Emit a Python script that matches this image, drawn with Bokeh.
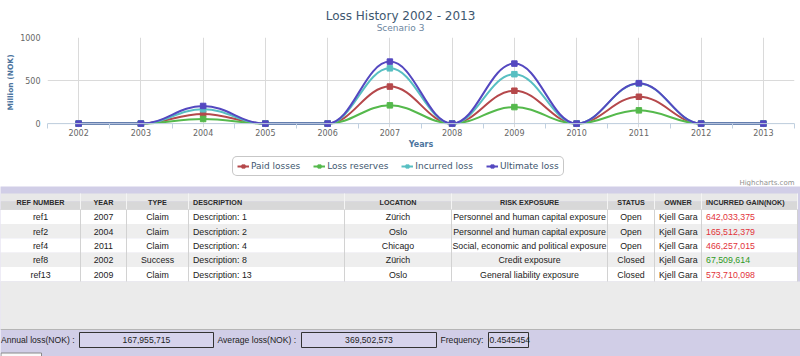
import numpy as np
from bokeh.plotting import figure
from bokeh.models import (Range1d, FixedTicker, Span, Legend, LegendItem, ColumnDataSource)
from bokeh.core.properties import value
from bokeh.embed import file_html
from bokeh.resources import INLINE

# ---------------- chart data ----------------
years = [2002, 2003, 2004, 2005, 2006, 2007, 2008, 2009, 2010, 2011, 2012, 2013]
year_tick_labels = ["2002", "2003", "2004", "2005", "2006", "2007",
                    "2008", "2009", "2010", "2011", "2012", "2013"]
y_tick_values = [0, 500, 1000]
y_tick_labels = ["0", "500", "1000"]
series_names = ["Paid losses", "Loss reserves", "Incurred loss", "Ultimate loss"]
paid_losses = [0, 0, 112, 0, 0, 430, 0, 382, 0, 312, 0, 0]
loss_reserves = [0, 0, 54, 0, 0, 212, 0, 192, 0, 154, 0, 0]
incurred_loss = [0, 0, 166, 0, 0, 642, 0, 574, 0, 466, 0, 0]
ultimate_loss = [0, 0, 205, 0, 0, 720, 0, 697, 0, 470, 0, 0]

chart_title = "Loss History 2002 - 2013"
chart_subtitle = "Scenario 3"
y_axis_title = "Million (NOK)"
x_axis_title = "Years"
credit_text = "Highcharts.com"

# ---------------- table data ----------------
table_headers = ["REF NUMBER", "YEAR", "TYPE", "DESCRIPTION", "LOCATION",
                 "RISK EXPOSURE", "STATUS", "OWNER", "INCURRED GAIN(NOK)"]
ref_numbers = ["ref1", "ref2", "ref4", "ref8", "ref13"]
row_years = ["2007", "2004", "2011", "2002", "2009"]
row_types = ["Claim", "Claim", "Claim", "Success", "Claim"]
descriptions = ["Description: 1", "Description: 2", "Description: 4",
                "Description: 8", "Description: 13"]
locations = ["Zürich", "Oslo", "Chicago", "Zürich", "Oslo"]
risk_exposures = ["Personnel and human capital exposure",
                  "Personnel and human capital exposure",
                  "Social, economic and political exposure",
                  "Credit exposure",
                  "General liability exposure"]
statuses = ["Open", "Open", "Open", "Closed", "Closed"]
owners = ["Kjell Gara", "Kjell Gara", "Kjell Gara", "Kjell Gara", "Kjell Gara"]
incurred_gains = ["642,033,375", "165,512,379", "466,257,015", "67,509,614", "573,710,098"]
gain_is_positive = [False, False, False, True, False]

footer_labels = ["Annual loss(NOK) :", "Average loss(NOK) :", "Frequency:"]
footer_values = ["167,955,715", "369,502,573", "0.4545454"]

# ---------------- styles ----------------
series_colors = ["#B5484B", "#55B94C", "#58BFC2", "#5448C0"]
CHART_FONT = "DejaVu Sans"
TABLE_FONT = "Liberation Sans"
LAVENDER = "#D1CEE7"
W = 800


def highcharts_spline(xs, ys, smoothing=1.5):
    """Bezier control points computed the way Highcharts' spline series does."""
    n = len(xs)
    denom = smoothing + 1
    left = [(xs[i], ys[i]) for i in range(n)]
    right = [(xs[i], ys[i]) for i in range(n)]
    for i in range(1, n - 1):
        x, y = xs[i], ys[i]
        lx, ly = xs[i - 1], ys[i - 1]
        nx, ny = xs[i + 1], ys[i + 1]
        lcx = (smoothing * x + lx) / denom
        lcy = (smoothing * y + ly) / denom
        rcx = (smoothing * x + nx) / denom
        rcy = (smoothing * y + ny) / denom
        corr = 0.0
        if rcx != lcx:
            corr = (rcy - lcy) * (rcx - x) / (rcx - lcx) + y - rcy
        lcy += corr
        rcy += corr
        if lcy > ly and lcy > y:
            lcy = max(ly, y)
            rcy = 2 * y - lcy
        elif lcy < ly and lcy < y:
            lcy = min(ly, y)
            rcy = 2 * y - lcy
        if rcy > ny and rcy > y:
            rcy = max(ny, y)
            lcy = 2 * y - rcy
        elif rcy < ny and rcy < y:
            rcy = min(ny, y)
            lcy = 2 * y - rcy
        left[i] = (lcx, lcy)
        right[i] = (rcx, rcy)
    d = dict(x0=[], y0=[], x1=[], y1=[], cx0=[], cy0=[], cx1=[], cy1=[])
    for i in range(n - 1):
        d["x0"].append(xs[i]); d["y0"].append(ys[i])
        d["x1"].append(xs[i + 1]); d["y1"].append(ys[i + 1])
        d["cx0"].append(right[i][0]); d["cy0"].append(right[i][1])
        d["cx1"].append(left[i + 1][0]); d["cy1"].append(left[i + 1][1])
    return d


def blank_panel(height, fill="white"):
    f = figure(width=W, height=height, title=None, x_range=Range1d(0, W),
               y_range=Range1d(height, 0), output_backend="svg", toolbar_location=None,
               x_axis_location=None, y_axis_location=None, min_border=0)
    f.outline_line_color = None
    f.background_fill_color = fill
    f.border_fill_color = fill
    f.xgrid.visible = False
    f.ygrid.visible = False
    return f


# ================= header (title + subtitle) =================
HH = 33
h = blank_panel(HH)
h.text(x=[400], y=[15.5], text=[chart_title], text_align="center",
       text_baseline="alphabetic", text_font=value(CHART_FONT), text_font_size="12px",
       text_color="#3E576F")
h.text(x=[400], y=[27.5], text=[chart_subtitle], text_align="center",
       text_baseline="alphabetic", text_font=value(CHART_FONT), text_font_size="9px",
       text_color="#6D869F")

# ================= chart =================
p = figure(width=W, height=118, title=None,
           x_range=Range1d(years[0] - 0.5, years[-1] + 0.5),
           y_range=Range1d(-45, y_tick_values[-1]),
           output_backend="svg", toolbar_location=None,
           min_border_left=47, min_border_right=6,
           min_border_top=4, min_border_bottom=21)
p.outline_line_color = None
p.background_fill_color = "white"
p.border_fill_color = "white"

half_years = [years[0] - 0.5] + [y + 0.5 for y in years]
p.xaxis.ticker = FixedTicker(ticks=years, minor_ticks=half_years)
p.xaxis.major_label_overrides = {y: lab for y, lab in zip(years, year_tick_labels)}
p.xaxis.axis_line_color = None
p.xaxis.major_tick_line_color = None
p.xaxis.major_tick_out = 0
p.xaxis.major_tick_in = 0
p.xaxis.minor_tick_line_color = "#C0D0E0"
p.xaxis.minor_tick_in = 4
p.xaxis.minor_tick_out = 1
p.xaxis.major_label_standoff = 0
p.xaxis.major_label_text_font = CHART_FONT
p.xaxis.major_label_text_font_size = "8px"
p.xaxis.major_label_text_color = "#666666"
p.xaxis.axis_label = x_axis_title
p.xaxis.axis_label_text_font = CHART_FONT
p.xaxis.axis_label_text_font_size = "8px"
p.xaxis.axis_label_text_font_style = "bold"
p.xaxis.axis_label_text_color = "#4D759E"
p.xaxis.axis_label_standoff = 1

p.yaxis.ticker = FixedTicker(ticks=y_tick_values)
p.yaxis.major_label_overrides = {v: lab for v, lab in zip(y_tick_values, y_tick_labels)}
p.yaxis.axis_line_color = None
p.yaxis.major_tick_line_color = None
p.yaxis.major_tick_out = 0
p.yaxis.major_tick_in = 0
p.yaxis.minor_tick_line_color = None
p.yaxis.major_label_standoff = 7
p.yaxis.major_label_text_font = CHART_FONT
p.yaxis.major_label_text_font_size = "8px"
p.yaxis.major_label_text_color = "#666666"
p.yaxis.axis_label = y_axis_title
p.yaxis.axis_label_text_font = CHART_FONT
p.yaxis.axis_label_text_font_size = "7.5px"
p.yaxis.axis_label_text_font_style = "bold"
p.yaxis.axis_label_text_color = "#4D759E"
p.yaxis.axis_label_standoff = 2

p.xgrid.grid_line_color = "#DADADA"
p.ygrid.grid_line_color = "#DADADA"

p.add_layout(Span(location=0, dimension="width", line_color="#C0D0E0", line_width=1))

for vals, col in zip([paid_losses, loss_reserves, incurred_loss, ultimate_loss],
                     series_colors):
    src = ColumnDataSource(highcharts_spline(years, vals))
    p.bezier(x0="x0", y0="y0", x1="x1", y1="y1", cx0="cx0", cy0="cy0",
             cx1="cx1", cy1="cy1", source=src, line_color=col, line_width=2)
    p.scatter(years, vals, marker="square", size=5.5, fill_color=col, line_color=col)

# ================= legend strip + credits =================
LH = 35
lg = blank_panel(LH)
legend_items = []
nan_src = ColumnDataSource(dict(x=np.array([np.nan]), y=np.array([np.nan])))
for name, col in zip(series_names, series_colors):
    # proxy renderers without visible data: they only supply the legend symbols
    lr = lg.line(x="x", y="y", source=nan_src, line_color=col, line_width=2)
    mr = lg.scatter(x="x", y="y", source=nan_src, marker="square", size=5.5,
                    fill_color=col, line_color=col)
    legend_items.append(LegendItem(label=name, renderers=[lr, mr]))
legend = Legend(items=legend_items, orientation="horizontal", location=(232, 10),
                padding=4, spacing=13, margin=0, glyph_width=12, glyph_height=8,
                label_standoff=2, label_height=8, label_width=10,
                label_text_font=CHART_FONT, label_text_font_size="9px",
                label_text_color="#3E576F",
                border_line_color="#909090", border_line_width=1,
                background_fill_color="white", background_fill_alpha=1)
if "border_radius" in Legend.properties():
    legend.border_radius = 5
lg.add_layout(legend, "center")
lg.text(x=[794], y=[31.5], text=[credit_text], text_align="right",
        text_baseline="alphabetic", text_font=value(CHART_FONT), text_font_size="7px",
        text_color="#909090")

# ================= bottom table =================
H2 = 170
q = blank_panel(H2, LAVENDER)

col_widths = [80, 46, 62, 156, 107, 156, 47, 47, 96]
col_align = ["center", "center", "center", "left", "center", "center", "center", "left", "left"]
head_align = ["center", "center", "center", "left", "center", "center", "center", "center", "left"]
edges = [0]
for w in col_widths:
    edges.append(edges[-1] + w)
table_right = edges[-1]

header_top, header_bottom = 7, 23
row_h = 14.4
n_rows = len(ref_numbers)
rows_bottom = header_bottom + row_h * n_rows
gray_bottom = 143

mid = (header_top + header_bottom) / 2
q.quad(left=[0], right=[table_right], top=[header_top], bottom=[mid],
       fill_color="#E8E8E8", line_color=None)
q.quad(left=[0], right=[table_right], top=[mid], bottom=[header_bottom],
       fill_color="#D8D8D8", line_color=None)
q.segment(x0=[0], y0=[header_bottom], x1=[table_right], y1=[header_bottom],
          line_color="#B4B4B4")
row_tops = [header_bottom + row_h * i for i in range(n_rows)]
q.quad(left=[0] * n_rows, right=[table_right] * n_rows, top=row_tops,
       bottom=[t + row_h for t in row_tops],
       fill_color=["#FFFFFF" if i % 2 == 0 else "#EEEEEE" for i in range(n_rows)],
       line_color=None)
q.quad(left=[0], right=[W], top=[rows_bottom], bottom=[gray_bottom],
       fill_color="#EBEBEB", line_color=None)
q.segment(x0=[0], y0=[gray_bottom], x1=[W], y1=[gray_bottom], line_color="#B5B5B5")
inner = edges[1:]
q.segment(x0=inner, y0=[header_top] * len(inner), x1=inner, y1=[header_bottom] * len(inner),
          line_color="#F4F4F4")
q.segment(x0=inner, y0=[header_bottom] * len(inner), x1=inner, y1=[rows_bottom] * len(inner),
          line_color="#D2D2D2")


def col_x(i, align):
    return edges[i] + col_widths[i] / 2 if align == "center" else edges[i] + 4.5


q.text(x=[col_x(i, head_align[i]) for i in range(len(table_headers))],
       y=[mid + 0.5] * len(table_headers),
       text=table_headers, text_align=head_align, text_baseline="middle",
       text_font=value(TABLE_FONT), text_font_style="bold", text_font_size="7.2px",
       text_color="#2A2A2A")

columns = [ref_numbers, row_years, row_types, descriptions, locations,
           risk_exposures, statuses, owners, incurred_gains]
row_centers = [t + row_h / 2 + 0.5 for t in row_tops]
for ci, col_vals in enumerate(columns):
    if ci == len(columns) - 1:
        colors = ["#2E9A1E" if g else "#E2323A" for g in gain_is_positive]
    else:
        colors = ["#222222"] * n_rows
    q.text(x=[col_x(ci, col_align[ci])] * n_rows, y=row_centers, text=col_vals,
           text_align=col_align[ci], text_baseline="middle",
           text_font=value(TABLE_FONT), text_font_size="8.8px", text_color=colors)

foot_y = 153.5
box_left = [79, 301, 488]
box_right = [213, 436, 528]
label_x = [0.5, 217, 440]
q.quad(left=box_left, right=box_right, top=[foot_y - 7.5] * 3, bottom=[foot_y + 7.5] * 3,
       fill_color="#D6D3EC", line_color="#333333", line_width=1)
q.text(x=label_x, y=[foot_y] * 3, text=footer_labels, text_align="left",
       text_baseline="middle", text_font=value(TABLE_FONT), text_font_size="8.6px",
       text_color="#222222")
q.text(x=[(box_left[0] + box_right[0]) / 2, (box_left[1] + box_right[1]) / 2, box_left[2] + 1],
       y=[foot_y] * 3, text=footer_values, text_align=["center", "center", "left"],
       text_baseline="middle", text_font=value(TABLE_FONT), text_font_size="8.6px",
       text_color="#222222")
q.quad(left=[0.5], right=[41], top=[166.5], bottom=[175], fill_color="#FAFAFA",
       line_color="#8A8A8A")

open("out.html", "w").write(file_html([h, p, lg, q], INLINE))
